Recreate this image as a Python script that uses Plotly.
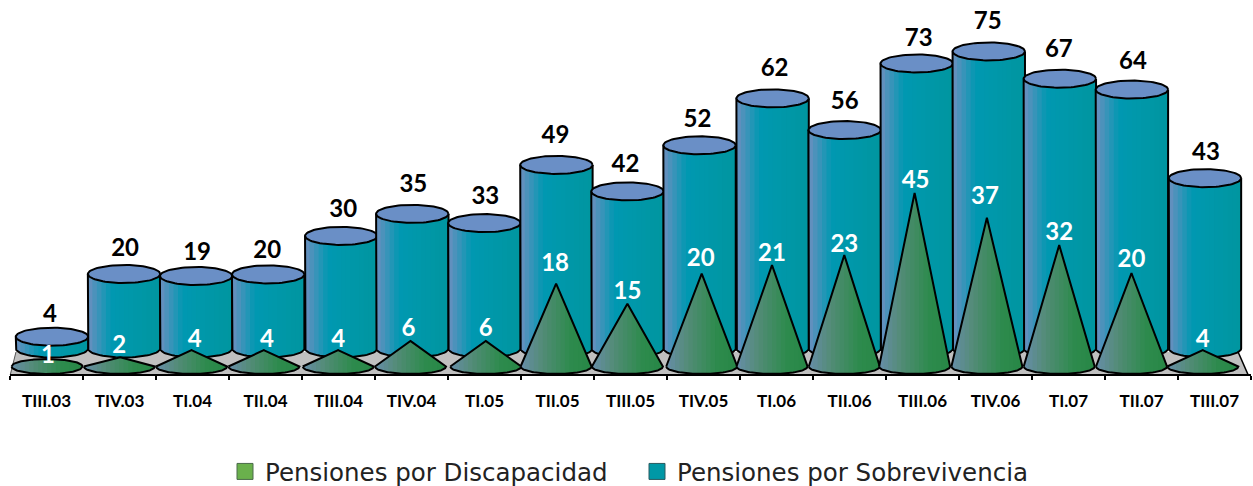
import math
import plotly.graph_objects as go

# ---------- data ----------
trimestres = ["TIII.03","TIV.03","TI.04","TII.04","TIII.04","TIV.04","TI.05","TII.05","TIII.05",
              "TIV.05","TI.06","TII.06","TIII.06","TIV.06","TI.07","TII.07","TIII.07"]
sobrevivencia = [4,20,19,20,30,35,33,49,42,52,62,56,73,75,67,64,43]
discapacidad = [1,2,4,4,4,6,6,18,15,20,21,23,45,37,32,20,4]
# heights as they are drawn in the picture (3-D projection differs from the labels)
altura_sobrevivencia = [4.06,19.7,19.2,19.6,29.2,34.7,32.4,46.9,40.3,51.8,63.5,55.6,72.2,75.2,68.4,65.7,43.6]
altura_discapacidad = [1.2,2.5,4.2,4.2,4.2,6.5,6.5,20.8,15.8,23.3,25.4,27.9,43.4,37.2,30.4,23.4,4.2]

# ---------- scales: pixels per unit ----------
W, H = 1253, 500   # the last 14 px fall below the window and are blank; room for the legend box
PX_X, PX_Y = 72.06, 4.01
X0_PX, Y0_PX = 52, 353
def dx(px): return px / PX_X
def dy(px): return px / PX_Y

# small per-mark placement corrections, pixels
ajuste_cono = [0,0,0,0,2,2,5,3,2,4,2,2,0,0,0,0,-1]
ajuste_cil = [0,0,0,0,1,0,0,0,-1,-1,0,0,0,0,-1,-1,0]
et_sob_dx = [-2,1,1,-1,2,1,1,-1,-2,-2,2,0,2,-1,-1,1,1]
et_sob_dy = [23,27,25,24.5,27,30,28,30,28,27,30.5,30,26,30.6,30.7,29.5,27]
et_dis_dx = [1,0,3,3,0,-2,0,-1,0,-1,0,0,1,-2,0,0,0]
et_dis_dy = [8,12,12,12,12,13,13,21.5,13.5,16.5,13,12,13,22,14,15,12]
TEXT_DROP = 2.5

STRIPS = 16
OUT = dict(color="black", width=2)
def mix(a, b, t):
    return tuple(a[i] + (b[i] - a[i]) * t for i in range(3))
def ramp(stops, t):
    for (t0, c0), (t1, c1) in zip(stops, stops[1:]):
        if t <= t1:
            c = mix(c0, c1, (t - t0) / (t1 - t0))
            return "rgb(%d,%d,%d)" % c
    return "rgb(%d,%d,%d)" % stops[-1][1]
CIL_RAMP = [(0, (108,144,192)), (0.32, (0,153,178)), (0.6, (0,152,170)), (1, (0,150,160))]
CONO_RAMP = [(0, (104,142,170)), (0.3, (84,140,120)), (0.7, (46,139,78)), (1, (40,136,70))]

fig = go.Figure()
def add(x, y, **kw):
    fig.add_trace(go.Scatter(x=x, y=y, showlegend=False, hoverinfo="skip", **kw))
def poly(x, y, color):
    add(x, y, mode="lines", fill="toself", fillcolor=color, line=dict(width=0))

# floor
fx = [-0.5, -0.58, 16.6, 16.46]
fy = [dy(1), dy(-22), dy(-22), dy(1)]
poly(fx + fx[:1], fy + fy[:1], "#C0C0C0")
add([fx[0], fx[1]], [fy[0], fy[1]], mode="lines", line=dict(color="#555", width=1))
add([fx[2], fx[3]], [fy[2], fy[3]], mode="lines", line=dict(color="black", width=1.5))

# cylinders
A_C, B_C = dx(36.2), dy(9)
BASE_C = dy(4.5)  # value level of the base ellipse centre
for i, h in enumerate(altura_sobrevivencia):
    c = i + dx(ajuste_cil[i])
    for k in range(STRIPS):
        t0, t1 = k / STRIPS, (k + 1) / STRIPS
        t2 = min(1, t1 + 0.03)
        xs = [c - A_C + 2 * A_C * (t0 + (t2 - t0) * j / 3) for j in range(4)]
        low = [BASE_C - B_C * math.sqrt(max(0, 1 - ((x - c) / A_C) ** 2)) for x in xs]
        poly([xs[0]] + xs + [xs[-1], xs[0]], [h] + low + [h, h], ramp(CIL_RAMP, (t0 + t1) / 2))
    th = [math.pi * j / 40 for j in range(41)]
    add([c - A_C] + [c - A_C * math.cos(a) for a in th] + [c + A_C],
        [h] + [BASE_C - B_C * math.sin(a) for a in th] + [h], mode="lines", line=OUT)
    th = [2 * math.pi * j / 80 for j in range(81)]
    add([c + A_C * math.cos(a) for a in th], [h + B_C * math.sin(a) for a in th],
        mode="lines", fill="toself", fillcolor="#6A8FC6", line=OUT)

# cones
X0_CONE = (47 - X0_PX) / PX_X
STEP_CONE = 72.3 / PX_X
A_K, B_K = dx(35.5), dy(7.5)
BASE_K = dy(-13.5)
CERO_K = dy(-14)     # level from which the cone heights are measured
def silhouette(c, apex):
    """top and bottom of the cone's outline at horizontal position x"""
    pointed = apex - BASE_K > 0.7 * B_K
    def top(x):
        if pointed:
            return apex + (BASE_K - apex) * abs(x - c) / A_K
        return BASE_K + B_K * math.sqrt(max(0, 1 - ((x - c) / A_K) ** 2))
    def bot(x):
        return BASE_K - B_K * math.sqrt(max(0, 1 - ((x - c) / A_K) ** 2))
    return top, bot
cone_centres = []
for i, h in enumerate(altura_discapacidad):
    c = X0_CONE + STEP_CONE * i + dx(ajuste_cono[i])
    cone_centres.append(c)
    top, bot = silhouette(c, CERO_K + h)
    for k in range(STRIPS):
        t0, t1 = k / STRIPS, (k + 1) / STRIPS
        t2 = min(1, t1 + 0.03)
        xs = [c - A_K + 2 * A_K * (t0 + (t2 - t0) * j / 3) for j in range(4)]
        poly(xs + xs[::-1] + xs[:1], [top(x) for x in xs] + [bot(x) for x in xs[::-1]] + [top(xs[0])],
             ramp(CONO_RAMP, (t0 + t1) / 2))
    xs = [c - A_K + 2 * A_K * j / 80 for j in range(81)]
    add(xs + xs[::-1] + xs[:1], [top(x) for x in xs] + [bot(x) for x in xs[::-1]] + [top(xs[0])],
        mode="lines", line=OUT)

# value labels
LABEL_FONT = "Lato, 'DejaVu Sans', sans-serif"
add([i + dx(ajuste_cil[i]) + dx(et_sob_dx[i]) for i in range(17)],
    [altura_sobrevivencia[i] + dy(et_sob_dy[i] - TEXT_DROP) for i in range(17)],
    mode="text", text=[str(v) for v in sobrevivencia], textposition="middle center",
    textfont=dict(family=LABEL_FONT, size=24, color="black", weight="bold"))
add([cone_centres[i] + dx(et_dis_dx[i]) for i in range(17)],
    [CERO_K + altura_discapacidad[i] + dy(et_dis_dy[i] - TEXT_DROP) for i in range(17)],
    mode="text", text=[str(v) for v in discapacidad], textposition="middle center",
    textfont=dict(family=LABEL_FONT, size=24, color="white", weight="bold"))

# category axis carrier
fig.add_trace(go.Scatter(x=trimestres, y=[None] * 17, xaxis="x2", mode="markers",
                         showlegend=False, hoverinfo="skip"))
# legend
fig.add_trace(go.Scatter(x=[None], y=[None], mode="markers", name="Pensiones por Discapacidad",
                         marker=dict(symbol="square", size=18, color="#6AB04C", line=dict(color="#4a6a4a", width=1))))
fig.add_trace(go.Scatter(x=[None], y=[None], mode="markers", name="Pensiones por Sobrevivencia",
                         marker=dict(symbol="square", size=18, color="#0098A6", line=dict(color="#2a5a60", width=1))))

fig.update_layout(
    width=W, height=H, margin=dict(l=0, r=0, t=0, b=0), paper_bgcolor="white", plot_bgcolor="rgba(0,0,0,0)",
    showlegend=True,
    legend=dict(orientation="h", x=225 / W, xanchor="left", y=6 / H, yanchor="bottom",
                entrywidth=367, entrywidthmode="pixels",
                font=dict(family="'DejaVu Sans', sans-serif", size=24.5, color="#222"),
                bgcolor="rgba(0,0,0,0)"),
    xaxis=dict(range=[-X0_PX / PX_X, (W - X0_PX) / PX_X], visible=False, fixedrange=True),
    yaxis=dict(range=[(Y0_PX - H) / PX_Y, Y0_PX / PX_Y], visible=False, fixedrange=True),
    xaxis2=dict(domain=[10 / W, 1251 / W], anchor="free", position=(H - 375) / H,
                type="category", categoryorder="array", categoryarray=trimestres,
                range=[-0.5, 16.5], tickson="boundaries", ticks="outside", ticklen=4, tickwidth=2,
                tickcolor="black", showline=True, linecolor="black", linewidth=2, showgrid=False,
                zeroline=False, tickangle=0, fixedrange=True, ticklabelstandoff=11,
                tickfont=dict(family=LABEL_FONT, size=17, color="black", weight="bold")),
)
fig.write_html("out.html", config=dict(displayModeBar=False),
               post_script="document.body.style.margin='0';document.documentElement.style.overflow='hidden';")
